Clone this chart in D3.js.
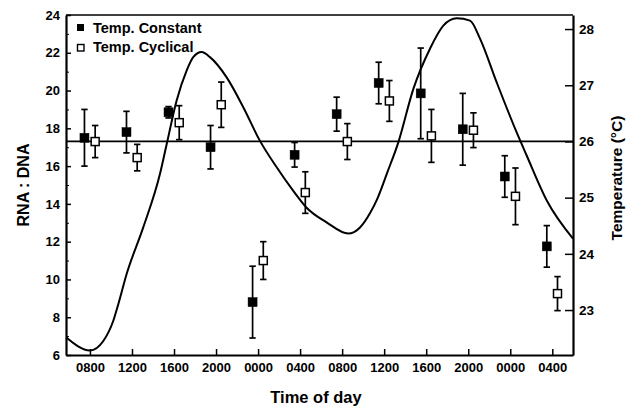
<!DOCTYPE html>
<html><head><meta charset="utf-8">
<script src="https://cdn.jsdelivr.net/npm/d3@7"></script>
<style>
body{margin:0;background:#fff;}
svg{display:block;font-family:"Liberation Sans",Arial,Helvetica,sans-serif;font-weight:bold;}
</style></head>
<body><svg id="c" width="629" height="409"></svg>
<script>
// ---- data ----
const sampleHours = [8,12,16,20,24,28,32,36,40,44,48,52];
const constMean = [17.5,17.8,18.85,17.0,8.8,16.6,18.75,20.4,19.85,17.95,15.45,11.75];
const constErr  = [1.5,1.1,0.3,1.15,1.9,0.65,0.9,1.1,2.4,1.9,1.1,1.1];
const cycMean   = [17.3,16.45,18.3,19.25,11.0,14.6,17.3,19.45,17.6,17.9,14.4,9.25];
const cycErr    = [0.85,0.7,0.9,1.2,1.0,1.1,0.95,1.08,1.4,0.92,1.5,0.9];
const tempHours = [5.75,8.0,9.27,10.22,10.69,11.49,13.07,14.66,15.3,16.25,17.2,17.83,18.63,19.42,21.01,22.59,24.18,25.77,27.35,28.62,30.52,32.58,33.7,34.7,35.3,36.3,37.34,38.77,40.36,41.63,42.9,44.17,45.12,46.71,48.61,49.56,51.5,53.97];
const tempVals  = [22.51,22.28,22.45,22.81,23.1,23.64,24.47,25.42,25.95,26.73,27.26,27.5,27.59,27.5,27.14,26.61,26.01,25.54,25.12,24.82,24.56,24.36,24.47,24.74,24.96,25.45,25.98,26.93,27.65,28.06,28.19,28.15,27.83,27.05,26.16,25.75,24.94,24.27];
const constantTemp = 26;
const xTickHours = [8,12,16,20,24,28,32,36,40,44,48,52];
const xTickLabels = ["0800","1200","1600","2000","0000","0400","0800","1200","1600","2000","0000","0400"];
const yLeftTicks = [6,8,10,12,14,16,18,20,22,24];
const yLeftMinor = [7,9,11,13,15,17,19,21,23];
const yRightTicks = [23,24,25,26,27,28];
const legendLabels = ["Temp. Constant","Temp. Cyclical"];

// ---- layout ----
const L=66,R=573,T=15,B=355;
const svg=d3.select("#c");
const x=d3.scaleLinear().domain([5.72,53.97]).range([L,R]);
const yL=d3.scaleLinear().domain([6,24]).range([B,T]);
const yR=d3.scaleLinear().domain([22.2,28.25]).range([B,T]);

// constant temperature line
svg.append("line").attr("x1",L).attr("x2",R)
  .attr("y1",yR(constantTemp)).attr("y2",yR(constantTemp))
  .attr("stroke","#000").attr("stroke-width",1.8);

// temperature curve
const line=d3.line().x(d=>x(d[0])).y(d=>yR(d[1])).curve(d3.curveMonotoneX);
const tdata=tempHours.map((h,i)=>[h,tempVals[i]]);
svg.append("path").datum(tdata).attr("d",line)
  .attr("fill","none").attr("stroke","#000").attr("stroke-width",2);

// error bars + markers
function series(means,errs,offset,filled){
  const g=svg.append("g");
  means.forEach((m,i)=>{
    const cx=x(sampleHours[i])+offset;
    const y1=yL(m+errs[i]), y2=yL(m-errs[i]);
    g.append("line").attr("x1",cx).attr("x2",cx).attr("y1",y1).attr("y2",y2)
      .attr("stroke","#000").attr("stroke-width",1.7);
    [y1,y2].forEach(yy=>g.append("line").attr("x1",cx-3.2).attr("x2",cx+3.2)
      .attr("y1",yy).attr("y2",yy).attr("stroke","#000").attr("stroke-width",1.7));
    const s=filled?9:8;
    g.append("rect").attr("x",cx-s/2).attr("y",yL(m)-s/2).attr("width",s).attr("height",s)
      .attr("fill",filled?"#000":"#fff").attr("stroke","#000").attr("stroke-width",filled?0.5:1.5);
  });
}
series(constMean,constErr,-5.5,true);
series(cycMean,cycErr,5.2,false);

// axes
const fs="13px";
const gl=svg.append("g").attr("transform",`translate(${L},0)`)
  .call(d3.axisLeft(yL).tickValues(yLeftTicks).tickSize(-5).tickSizeOuter(0).tickPadding(6));
svg.append("g").attr("transform",`translate(${L},0)`)
  .call(d3.axisLeft(yL).tickValues(yLeftMinor).tickSize(-3).tickFormat("").tickSizeOuter(0))
  .select(".domain").remove();
const gr=svg.append("g").attr("transform",`translate(${R},0)`)
  .call(d3.axisRight(yR).tickValues(yRightTicks).tickFormat(d3.format("d")).tickSize(-8).tickSizeOuter(0).tickPadding(6));
const gb=svg.append("g").attr("transform",`translate(0,${B})`)
  .call(d3.axisBottom(x).tickValues(xTickHours).tickFormat((d,i)=>xTickLabels[i]).tickSize(-6).tickSizeOuter(0).tickPadding(8));
[gl,gr,gb].forEach(g=>{
  g.select(".domain").attr("stroke-width",2.2);
  g.selectAll(".tick line").attr("stroke-width",1.5);
  g.selectAll("text").attr("font-size",fs).attr("font-weight","bold")
   .attr("font-family","'Liberation Sans',Arial,sans-serif").attr("fill","#000");
});
gr.selectAll("text").attr("font-size","13.5px");
// top border
svg.append("line").attr("x1",L).attr("x2",R).attr("y1",T).attr("y2",T)
  .attr("stroke","#000").attr("stroke-width",1.6);

// legend
const lg=svg.append("g");
lg.append("rect").attr("x",77).attr("y",24).attr("width",7).attr("height",7).attr("fill","#000");
lg.append("rect").attr("x",77.5).attr("y",44.5).attr("width",6.5).attr("height",6.5).attr("fill","#fff").attr("stroke","#000").attr("stroke-width",1.4);
lg.append("text").attr("x",93).attr("y",33).attr("font-size","14.5px").text(legendLabels[0]);
lg.append("text").attr("x",93).attr("y",52).attr("font-size","14.5px").text(legendLabels[1]);

// axis titles
svg.append("text").attr("transform",`translate(29,${(T+B)/2}) rotate(-90)`)
  .attr("text-anchor","middle").attr("font-size","16px").text("RNA : DNA");
svg.append("text").attr("transform",`translate(622,${(T+B)/2-7}) rotate(-90)`)
  .attr("text-anchor","middle").attr("font-size","15.5px").text("Temperature (°C)");
svg.append("text").attr("x",316).attr("y",403)
  .attr("text-anchor","middle").attr("font-size","16.5px").text("Time of day");
</script></body></html>
